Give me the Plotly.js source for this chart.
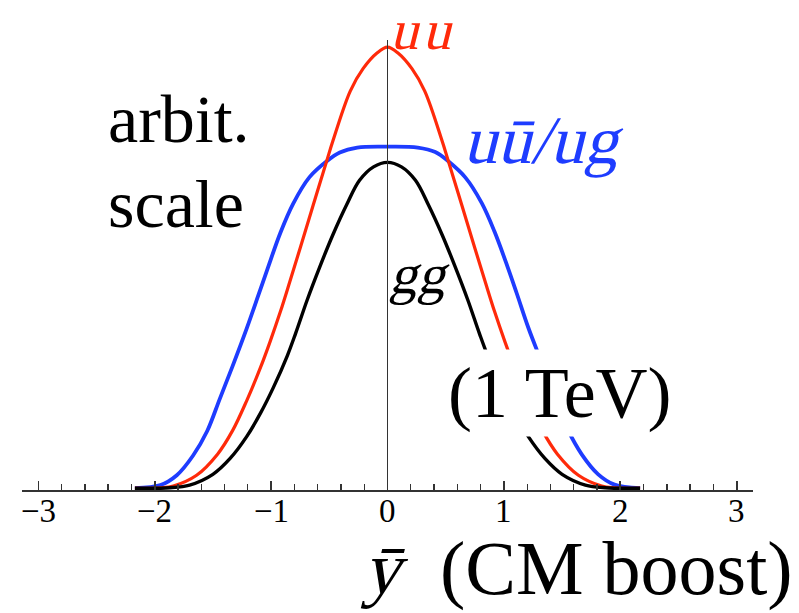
<!DOCTYPE html>
<html>
<head>
<meta charset="utf-8">
<script src="https://cdn.plot.ly/plotly-3.0.1.min.js"></script>
<style>html,body{margin:0;padding:0;background:#fff;}#chart{width:799px;height:613px;}</style>
</head>
<body>
<div id="chart"></div>
<script>
// Rapidity (CM boost) distributions at 1 TeV, arbitrary scale
const xBlue = [-2.17,-1.95,-1.81,-1.67,-1.55,-1.44,-1.33,-1.21,-1.11,-1.03,-0.92,-0.81,-0.67,-0.52,-0.41,-0.26,0,0.26,0.41,0.52,0.67,0.81,0.92,1.03,1.11,1.21,1.33,1.44,1.55,1.67,1.81,1.95,2.17];
const yBlue = [0,0.007,0.029,0.073,0.127,0.2,0.273,0.356,0.43,0.49,0.57,0.635,0.694,0.73,0.749,0.76,0.762,0.76,0.75,0.73,0.693,0.636,0.572,0.495,0.435,0.358,0.277,0.2,0.13,0.075,0.031,0.008,0];

const xRed = [-2.17,-1.95,-1.84,-1.64,-1.46,-1.33,-1.21,-1.09,-1.01,-0.92,-0.84,-0.75,-0.64,-0.52,-0.47,-0.32,-0.21,-0.09,0,0.09,0.21,0.32,0.47,0.52,0.64,0.75,0.84,0.92,1.01,1.09,1.21,1.33,1.46,1.64,1.84,1.95,2.17];
const yRed = [0,0.001,0.005,0.029,0.076,0.129,0.195,0.27,0.326,0.394,0.46,0.536,0.63,0.732,0.774,0.886,0.936,0.971,0.984,0.971,0.936,0.886,0.774,0.732,0.63,0.536,0.46,0.394,0.326,0.27,0.195,0.129,0.076,0.029,0.005,0.001,0];

const xBlack = [-2.17,-1.87,-1.70,-1.50,-1.35,-1.21,-1.09,-0.98,-0.86,-0.79,-0.69,-0.58,-0.47,-0.35,-0.24,-0.12,0,0.12,0.24,0.35,0.47,0.58,0.69,0.79,0.86,0.98,1.09,1.21,1.35,1.50,1.70,1.87,2.17];
const yBlack = [0,0.001,0.007,0.031,0.067,0.115,0.168,0.225,0.296,0.345,0.42,0.495,0.565,0.633,0.687,0.717,0.727,0.717,0.687,0.633,0.565,0.495,0.42,0.345,0.296,0.225,0.168,0.115,0.067,0.031,0.007,0.001,0];

const tickVals = [-3,-2,-1,0,1,2,3];
const tickText = ['\u22123','\u22122','\u22121','0','1','2','3'];

const serif = 'Liberation Serif';
const RED = '#ff2a0a', BLUE = '#1e3cff';

const traces = [
  {x: xBlue, y: yBlue, mode: 'lines', line: {color: BLUE, width: 3.8, shape: 'spline', smoothing: 1}, hoverinfo: 'skip'},
  {x: xRed, y: yRed, mode: 'lines', line: {color: RED, width: 3.2, shape: 'spline', smoothing: 1}, hoverinfo: 'skip'},
  {x: xBlack, y: yBlack, mode: 'lines', line: {color: '#000', width: 3.4, shape: 'spline', smoothing: 1}, hoverinfo: 'skip'}
];

// pixel -> paper helpers for label placement
const L = 22, T = 40, W = 731, H = 450;
const px = v => (v - L) / W;
const py = v => (T + H - v) / H;

const ann = (x, y, text, size, color, opts) => Object.assign({
  xref: 'paper', yref: 'paper', x: px(x), y: py(y), text: text, showarrow: false,
  xanchor: 'center', yanchor: 'middle', font: {family: serif, size: size, color: color}
}, opts || {});

// annotations 0,1,2,6 are math-italic labels (slanted after drawing)
const annotations = [
  ann(420, 30, 'u\u200Au', 56, RED),
  ann(540, 140, 'uū/ug', 68, BLUE),
  ann(417, 274, 'gg', 56, '#000'),
  ann(106, 119, 'arbit.', 68, '#000', {xanchor: 'left'}),
  ann(106, 204, 'scale', 68, '#000', {xanchor: 'left'}),
  ann(560, 393, '(1 TeV)', 72, '#000', {bgcolor: '#fff', borderpad: 3}),
  ann(381, 568, 'ȳ', 74, '#000'),
  ann(795, 568, '(CM boost)', 76, '#000', {xanchor: 'right'})
];
const italicIdx = [0, 1, 2, 6];
// tick labels placed on the x scale
tickVals.forEach((v, i) => {
  annotations.push({xref: 'x', yref: 'paper', x: v, y: py(511), text: tickText[i], showarrow: false,
    xanchor: 'center', yanchor: 'middle', font: {family: serif, size: 33, color: '#000'}});
});

const layout = {
  width: 799, height: 613,
  margin: {l: L, r: 799 - L - W, t: T, b: 613 - T - H},
  paper_bgcolor: '#fff', plot_bgcolor: '#fff',
  showlegend: false,
  xaxis: {
    range: [-3.14, 3.14], tickvals: tickVals, showticklabels: false,
    ticks: 'inside', ticklen: 9, tickwidth: 1.6, tickcolor: '#333',
    minor: {dtick: 0.2, tick0: 0, ticks: 'inside', ticklen: 6, tickwidth: 1.3, tickcolor: '#333'},
    showline: true, linecolor: '#333', linewidth: 2,
    showgrid: false, zeroline: true, zerolinecolor: '#333', zerolinewidth: 1.6,
    zerolinelayer: 'above traces', layer: 'above traces',
    fixedrange: true
  },
  yaxis: {
    range: [-0.004, 1.0], visible: false, showgrid: false, zeroline: false, fixedrange: true
  },
  annotations: annotations
};

Plotly.newPlot('chart', traces, layout, {staticPlot: true, displayModeBar: false}).then(gd => {
  gd.querySelectorAll('g.annotation').forEach(g => {
    const idx = +g.getAttribute('data-index');
    if (italicIdx.indexOf(idx) < 0) return;
    const t = g.querySelector('text.annotation-text');
    if (!t) return;
    const bb = t.getBBox();
    const cx = bb.x + bb.width / 2, cy = bb.y + bb.height * 0.8;
    const prev = t.getAttribute('transform') || '';
    t.setAttribute('transform', prev + ` translate(${cx},${cy}) skewX(-14) translate(${-cx},${-cy})`);
  });
});
</script>
</body>
</html>
